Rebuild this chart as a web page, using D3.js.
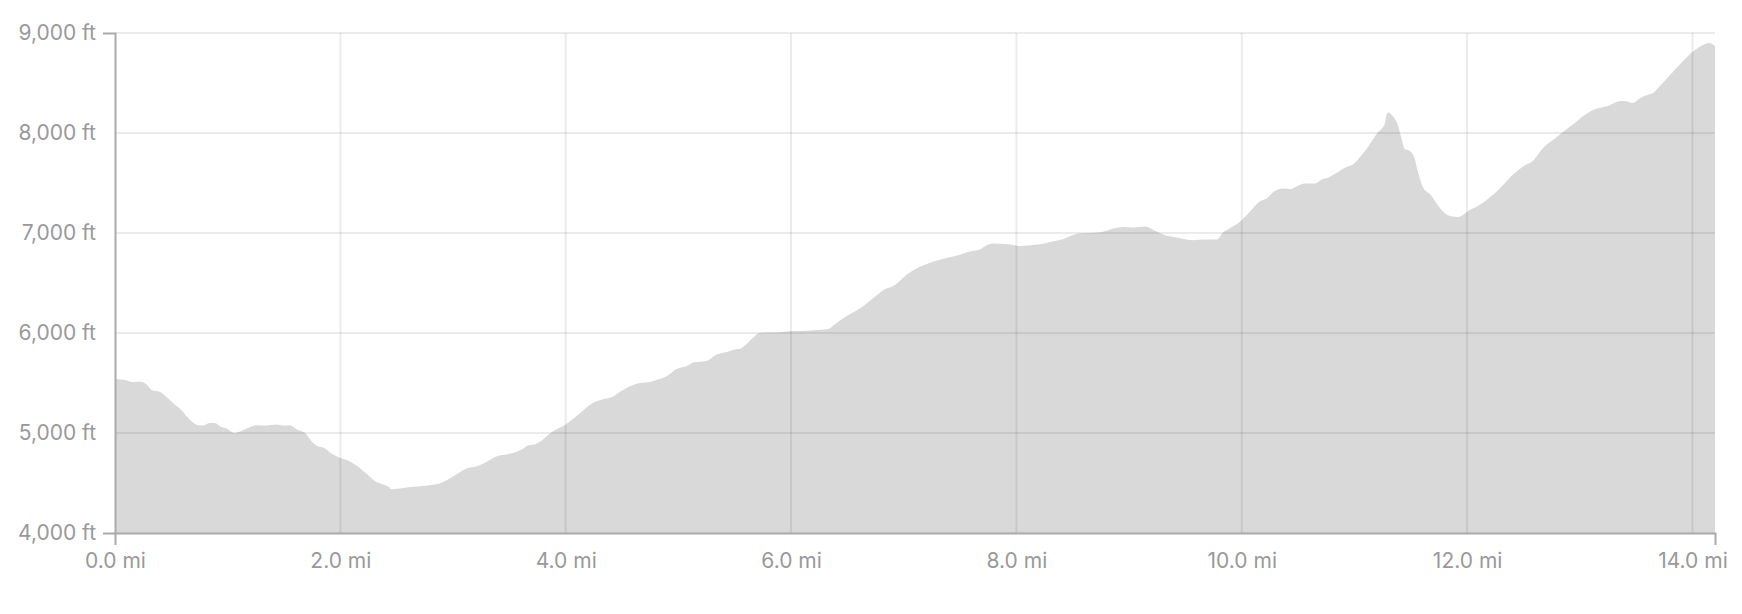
<!DOCTYPE html>
<html>
<head>
<meta charset="utf-8">
<script src="https://cdn.jsdelivr.net/npm/d3@7"></script>
<style>
    body { margin: 0; background: #fff; }
    #graph text { font-family: Inter, "Helvetica Neue", Helvetica, sans-serif; font-size: 21px; fill: #999; }
    .axis path { stroke: #aaa; stroke-width: 2; fill: none; }
    .grid line { stroke: rgba( 0, 0, 0, 0.08 ); stroke-width: 2; }
</style>
</head>
<body>
<div id="graph"></div>
<script>
// distance along the trail (mi) and elevation (ft)
var distMi = [
    0.00, 0.10, 0.16, 0.22, 0.27, 0.33, 0.40, 0.44, 0.52, 0.59, 0.67, 0.74, 0.78, 0.84, 0.89, 0.93, 0.99,
    1.06, 1.09, 1.17, 1.26, 1.35, 1.43, 1.49, 1.55, 1.61, 1.69, 1.75, 1.80, 1.85, 1.92, 1.98,
    2.09, 2.14, 2.23, 2.32, 2.40, 2.43, 2.45, 2.53, 2.62, 2.74, 2.84, 2.88, 2.97,
    3.05, 3.12, 3.21, 3.27, 3.39, 3.48, 3.56, 3.61, 3.67, 3.73, 3.79, 3.86, 3.93, 3.99,
    4.07, 4.13, 4.21, 4.32, 4.41, 4.48, 4.57, 4.66, 4.75, 4.82, 4.91, 4.98,
    5.09, 5.13, 5.25, 5.34, 5.43, 5.50, 5.55, 5.61, 5.66, 5.72, 5.81, 5.90, 5.99,
    6.08, 6.20, 6.33, 6.39, 6.48, 6.61, 6.73, 6.83, 6.92,
    7.02, 7.13, 7.20, 7.28, 7.38, 7.48, 7.57, 7.68, 7.75, 7.79, 7.93,
    8.03, 8.12, 8.21, 8.30, 8.41, 8.55, 8.65, 8.75, 8.86, 8.95,
    9.04, 9.14, 9.21, 9.32, 9.42, 9.57, 9.66, 9.78, 9.83, 9.89, 9.98,
    10.07, 10.16, 10.22, 10.29, 10.37, 10.43, 10.49, 10.56, 10.65, 10.71, 10.78, 10.84, 10.93, 10.99,
    11.05, 11.12, 11.20, 11.27, 11.28, 11.30, 11.34, 11.38, 11.41, 11.45, 11.48, 11.53, 11.56, 11.61,
    11.68, 11.74, 11.80, 11.86, 11.92, 11.96,
    12.01, 12.09, 12.15, 12.20, 12.29, 12.32, 12.41, 12.50, 12.59, 12.67, 12.78, 12.85, 12.95,
    13.04, 13.13, 13.24, 13.37, 13.41, 13.47, 13.53, 13.59, 13.65, 13.69, 13.80, 13.90,
    14.00, 14.09, 14.15, 14.20
];
var elevFt = [
    5540, 5527, 5507, 5514, 5494, 5427, 5410, 5377, 5294, 5227, 5127, 5077, 5074, 5100, 5100, 5067, 5044,
    5000, 5007, 5044, 5077, 5074, 5084, 5074, 5077, 5037, 4994, 4910, 4867, 4854, 4794, 4760,
    4712, 4677, 4594, 4510, 4477, 4460, 4437, 4444, 4460, 4470, 4484, 4494, 4544,
    4600, 4644, 4667, 4694, 4767, 4787, 4810, 4834, 4877, 4887, 4927, 4994, 5044, 5077,
    5144, 5200, 5277, 5334, 5360, 5410, 5467, 5500, 5510, 5534, 5577, 5637,
    5677, 5704, 5720, 5784, 5810, 5834, 5844, 5894, 5950, 6000, 6004, 6007, 6017,
    6020, 6027, 6040, 6087, 6160, 6244, 6350, 6434, 6477,
    6577, 6654, 6687, 6720, 6750, 6777, 6810, 6837, 6884, 6894, 6887,
    6870, 6877, 6887, 6910, 6937, 6994, 7000, 7007, 7044, 7060,
    7054, 7064, 7034, 6977, 6954, 6927, 6934, 6934, 7000, 7044, 7110,
    7210, 7315, 7344, 7417, 7444, 7437, 7467, 7494, 7494, 7534, 7560, 7600, 7660, 7687,
    7760, 7860, 7994, 8094, 8160, 8204, 8167, 8094, 7977, 7834, 7827, 7760, 7627, 7454,
    7377, 7277, 7200, 7167, 7160, 7177,
    7220, 7267, 7310, 7355, 7444, 7480, 7587, 7667, 7727, 7844, 7944, 8010, 8094,
    8177, 8234, 8267, 8320, 8317, 8300, 8344, 8377, 8400, 8444, 8577, 8700,
    8810, 8877, 8900, 8870
];
var xTicks = [ 0, 2, 4, 6, 8, 10, 12, 14 ];
var yTicks = [ 4000, 5000, 6000, 7000, 8000, 9000 ];

var width = 1742;
var height = 614;
var margin = { top: 33, right: 27, bottom: 81, left: 115 };

var vis = d3.select( "#graph" ).append( 'svg' )
    .attr( 'width', width )
    .attr( 'height', height );

var x = d3.scaleLinear()
    .domain( [ 0, 14.2 ] )
    .range( [ margin.left, width - margin.right ] );

var y = d3.scaleLinear()
    .domain( [ 4000, 9000 ] )
    .range( [ height - margin.bottom, margin.top ] );

var points = distMi.map( function( d, i ) { return [ d, elevFt[ i ] ]; });

var area = d3.area()
    .curve( d3.curveMonotoneX )
    .x( function( d ) { return x( d[ 0 ] ); })
    .y0( y( 4000 ) )
    .y1( function( d ) { return y( d[ 1 ] ); });

vis.append( 'path' )
    .datum( points )
    .attr( 'fill', '#d9d9d9' )
    .attr( 'd', area );

// grid sits on top of the area so it shows darker inside it
var grid = vis.append( 'g' ).attr( 'class', 'grid' );

grid.selectAll( 'line.vertical' )
    .data( xTicks.slice( 1 ) )
    .enter().append( 'line' )
    .attr( 'x1', function( d ) { return x( d ); })
    .attr( 'x2', function( d ) { return x( d ); })
    .attr( 'y1', y( 9000 ) )
    .attr( 'y2', y( 4000 ) );

grid.selectAll( 'line.horizontal' )
    .data( yTicks.slice( 1 ) )
    .enter().append( 'line' )
    .attr( 'x1', x( 0 ) )
    .attr( 'x2', x.range()[ 1 ] )
    .attr( 'y1', function( d ) { return y( d ); })
    .attr( 'y2', function( d ) { return y( d ); });

var xAxis = d3.axisBottom( x )
    .tickValues( xTicks )
    .tickSizeInner( 0 )
    .tickSizeOuter( 12 )
    .tickPadding( 20 )
    .tickFormat( function( d ) { return d3.format( '.1f' )( d ) + ' mi'; });

var yAxis = d3.axisLeft( y )
    .tickValues( yTicks )
    .tickSizeInner( 0 )
    .tickSizeOuter( 12 )
    .tickPadding( 19 )
    .tickFormat( function( d ) { return d3.format( ',' )( d ) + ' ft'; });

vis.append( 'g' )
    .attr( 'class', 'axis' )
    .attr( 'transform', 'translate(0,' + y( 4000 ) + ')' )
    .call( xAxis );

vis.append( 'g' )
    .attr( 'class', 'axis' )
    .attr( 'transform', 'translate(' + x( 0 ) + ',0)' )
    .call( yAxis );

vis.selectAll( '.axis text' ).attr( 'fill', null );
vis.selectAll( '.axis .domain' ).attr( 'stroke', null );
</script>
</body>
</html>
